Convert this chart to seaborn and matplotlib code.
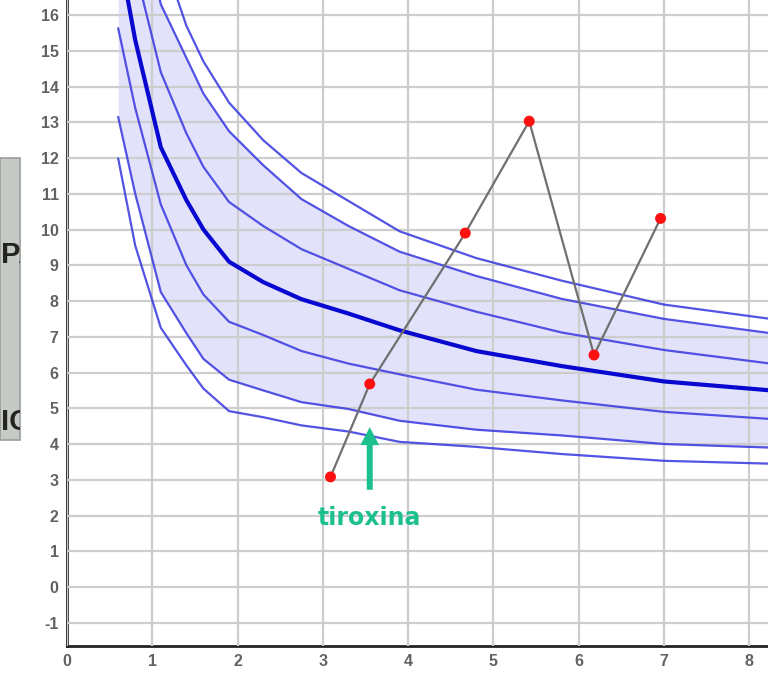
import numpy as np
import matplotlib
matplotlib.use("Agg")
import matplotlib.pyplot as plt
import seaborn as sns
from matplotlib.patches import Rectangle, FancyArrow
from matplotlib.ticker import MultipleLocator

# reference curves (age on x)
AGE = [0.6, 0.8, 1.1, 1.4, 1.6, 1.9, 2.3, 2.75, 3.3, 3.9, 4.8, 5.8, 7.0, 8.25]
c1 = [23.0, 21.0, 17.8, 15.7, 14.7, 13.55, 12.5, 11.58, 10.8, 9.95, 9.2, 8.57, 7.9, 7.5]
c2 = [21.5, 19.5, 16.3, 14.8, 13.8, 12.75, 11.8, 10.85, 10.1, 9.38, 8.7, 8.06, 7.5, 7.1]
c3 = [19.5, 17.3, 14.4, 12.69, 11.75, 10.77, 10.1, 9.45, 8.9, 8.3, 7.7, 7.12, 6.63, 6.25]
p50 = [17.9, 15.3, 12.3, 10.82, 10.0, 9.1, 8.53, 8.05, 7.65, 7.18, 6.6, 6.18, 5.75, 5.5]
c5 = [15.63, 13.4, 10.7, 9.0, 8.18, 7.42, 7.05, 6.6, 6.25, 5.95, 5.52, 5.22, 4.9, 4.7]
c6 = [13.15, 11.0, 8.25, 7.1, 6.38, 5.8, 5.5, 5.17, 4.98, 4.65, 4.4, 4.24, 4.0, 3.9]
c7 = [11.99, 9.55, 7.25, 6.2, 5.55, 4.92, 4.75, 4.52, 4.35, 4.06, 3.92, 3.72, 3.53, 3.45]

# patient measurements
pat_x = [3.09, 3.55, 4.67, 5.42, 6.18, 6.96]
pat_y = [3.08, 5.68, 9.9, 13.03, 6.49, 10.31]

sns.set_style("white")
plt.rcParams['font.family'] = ['Liberation Sans', 'DejaVu Sans']
plt.rcParams['axes.unicode_minus'] = False

fig = plt.figure(figsize=(7.68, 6.77), dpi=100)
ax = fig.add_axes([67 / 768, 31 / 677, 1 - 67 / 768, 1 - 31 / 677])

# shaded band
ax.fill_between(AGE, c6, c2, color="#e2e2fb", lw=0, zorder=1)

for c in [c1, c2, c3, c5, c6, c7]:
    sns.lineplot(x=AGE, y=c, ax=ax, color="#4040e2", lw=1.6, alpha=0.9, zorder=3)
sns.lineplot(x=AGE, y=p50, ax=ax, color="#0808d0", lw=3, zorder=3)

# patient line + points
sns.lineplot(x=pat_x, y=pat_y, ax=ax, color="#707070", lw=1.6, sort=False, zorder=4)
sns.scatterplot(x=pat_x, y=pat_y, ax=ax, color="#ff1010", s=62, edgecolor="none", zorder=5)

# tiroxina arrow
ax.add_patch(FancyArrow(3.55, 2.72, 0, 1.25, width=0.07, head_width=0.22, head_length=0.5,
                        length_includes_head=False, color="#1cc08e", lw=0, zorder=6))
ax.text(3.55, 1.92, "tiroxina", color="#1cc08e", fontsize=17, fontweight="bold",
        family="DejaVu Sans", ha="center", va="center", zorder=6)

ax.set_xlim(0, 8.22)
ax.set_ylim(-1.65, 16.42)
ax.xaxis.set_major_locator(MultipleLocator(1))
ax.xaxis.set_minor_locator(MultipleLocator(0.2))
ax.yaxis.set_major_locator(MultipleLocator(1))
ax.yaxis.set_minor_locator(MultipleLocator(0.2))
ax.grid(True, which="major", color="#cdcdcd", lw=1.6, zorder=2)
ax.set_axisbelow(False)
for gl in ax.get_xgridlines() + ax.get_ygridlines():
    gl.set_zorder(2)

for s in ["top", "right"]:
    ax.spines[s].set_visible(False)
for s in ["left", "bottom"]:
    ax.spines[s].set_color("#222222")
    ax.spines[s].set_linewidth(2)
ax.tick_params(which="major", direction="out", length=5, width=1.5, color="#222222",
               labelsize=11.5, labelcolor="#626262", pad=1)
ax.tick_params(which="minor", direction="out", length=3, width=1.2, color="#222222")
for lab in ax.get_xticklabels() + ax.get_yticklabels():
    lab.set_fontweight("bold")

# cut-off grey slide box on the left
box = Rectangle((0, 237 / 677), 20 / 768, 282 / 677, transform=fig.transFigure,
                facecolor="#c6cac6", edgecolor="#9a9e9a", lw=1.2, zorder=0)
fig.patches.append(box)
t1 = fig.text(1 / 768, 1 - 255 / 677, "PA", fontsize=21, fontweight="bold",
              color="#252520", va="center", ha="left")
t2 = fig.text(1 / 768, 1 - 422 / 677, "IC", fontsize=21, fontweight="bold",
              color="#252520", va="center", ha="left")
t1.set_clip_path(box)
t2.set_clip_path(box)

fig.savefig("out.png", dpi=100)
